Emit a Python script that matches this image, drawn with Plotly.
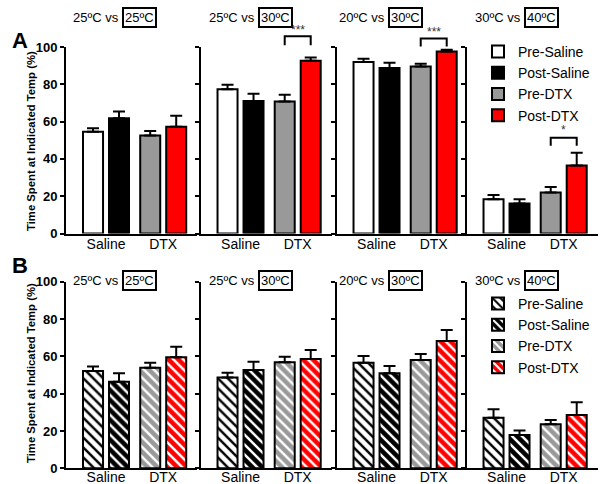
import plotly.graph_objects as go

W, H = 600, 484
FONT = "Arial, Liberation Sans, sans-serif"

series = ["Pre-Saline", "Post-Saline", "Pre-DTX", "Post-DTX"]
group_labels = ["Saline", "DTX"]
panel_titles_left = ["25ºC vs", "25ºC vs", "20ºC vs", "30ºC vs"]
panel_titles_box = ["25ºC", "30ºC", "30ºC", "40ºC"]

# Row A (solid bars): mean and SEM per subplot, order = series
A_mean = [[54.6, 61.8, 52.5, 57.3],
          [77.4, 71.1, 70.8, 92.6],
          [91.9, 88.7, 89.6, 97.6],
          [18.4, 16.1, 22.0, 36.4]]
A_sem = [[1.8, 3.6, 2.5, 5.8],
         [2.3, 3.8, 3.6, 1.8],
         [1.8, 2.9, 1.4, 0.9],
         [2.2, 2.2, 3.0, 6.9]]
# Row B (hatched bars)
B_mean = [[52.1, 46.4, 53.9, 59.5],
          [48.6, 52.7, 56.8, 58.6],
          [56.6, 50.9, 58.0, 68.2],
          [27.1, 17.8, 23.6, 28.6]]
B_sem = [[2.4, 4.5, 2.7, 5.7],
         [2.6, 4.4, 3.0, 4.8],
         [3.6, 3.9, 3.2, 5.9],
         [4.5, 2.4, 2.3, 6.8]]

# significance brackets (row A): (subplot index, from series, to series, label)
sig = [(1, 2, 3, "***"), (2, 2, 3, "***"), (3, 2, 3, "*")]

fills = ["white", "black", "#999999", "#ff0000"]
stripe = ["black", "white", "white", "white"]

# layout geometry (pixels)
xpos = [0, 1, 2.2, 3.2]
XR = [-1.04, 4.0]
YR = [0, 100]
col_left = [66, 200.5, 336.5, 466.5]
col_w = 131
rowA_y = (233.5, 47)   # px of 0 and 100
rowB_y = (468.3, 281.7)

def py2paper(p):
    return 1 - p / H

fig = go.Figure()

layout = dict(width=W, height=H, margin=dict(l=0, r=0, t=0, b=0, autoexpand=False),
              paper_bgcolor="white", plot_bgcolor="white",
              barmode="overlay", font=dict(family=FONT, color="black"),
              showlegend=True)

def axis_names(r, c):
    n = r * 4 + c + 1
    return ("x" if n == 1 else f"x{n}"), ("y" if n == 1 else f"y{n}")

shapes, annotations = [], []

for r, (means, sems, rowy) in enumerate([(A_mean, A_sem, rowA_y), (B_mean, B_sem, rowB_y)]):
    for c in range(4):
        xa, ya = axis_names(r, c)
        xkey = "xaxis" if xa == "x" else "xaxis" + xa[1:]
        ykey = "yaxis" if ya == "y" else "yaxis" + ya[1:]
        layout[xkey] = dict(domain=[col_left[c] / W, (col_left[c] + col_w) / W],
                            range=XR, showline=True, linecolor="black", linewidth=2,
                            showgrid=False, zeroline=False, ticks="",
                            tickvals=[(xpos[0] + xpos[1]) / 2, (xpos[2] + xpos[3]) / 2],
                            ticktext=group_labels, tickfont=dict(size=14, family=FONT),
                            ticklabelstandoff=(-3 if r == 0 else -5),
                            anchor=ya, fixedrange=True, automargin=False)
        layout[ykey] = dict(domain=[py2paper(rowy[0]), py2paper(rowy[1])],
                            range=YR, showline=True, linecolor="black", linewidth=2,
                            showgrid=False, zeroline=False, ticks="outside", ticklen=4,
                            tickwidth=2, tickcolor="black", dtick=20,
                            showticklabels=(c == 0),
                            tickfont=dict(size=13, family=FONT, weight="bold"),
                            anchor=xa, fixedrange=True, automargin=False)
        for i, s in enumerate(series):
            if r == 0:
                marker = dict(color=fills[i], line=dict(color="black", width=2))
            else:
                marker = dict(color=fills[i], line=dict(color="black", width=2),
                              pattern=dict(shape="\\", bgcolor=fills[i], fgcolor=stripe[i],
                                           size=7, solidity=0.35, fillmode="replace"))
            fig.add_trace(go.Bar(
                x=[xpos[i]], y=[means[c][i]], width=0.77,
                marker=marker, name=s,
                error_y=dict(type="data", symmetric=False, array=[sems[c][i]],
                             arrayminus=[0], color="black", thickness=2, width=6),
                xaxis=xa, yaxis=ya,
                legend="legend" if r == 0 else "legend2",
                legendgroup=f"{r}-{s}", showlegend=(c == 0),
            ))
        # titles
        ty = 17 if r == 0 else 280.5
        box_left = [122, 258, 388, 524][c]
        annotations.append(dict(text=panel_titles_left[c], x=(box_left - 1) / W, y=py2paper(ty),
                                xref="paper", yref="paper", xanchor="right", yanchor="middle",
                                showarrow=False, font=dict(size=13, family=FONT)))
        annotations.append(dict(text=panel_titles_box[c], x=box_left / W, y=py2paper(ty),
                                xref="paper", yref="paper", xanchor="left", yanchor="middle",
                                showarrow=False, font=dict(size=13, family=FONT),
                                bordercolor="black", borderwidth=2, borderpad=1))

# significance brackets
def to_paper(c, x, yv, rowy):
    px = col_left[c] + (x - XR[0]) / (XR[1] - XR[0]) * col_w
    pyy = rowy[0] + (yv - YR[0]) / (YR[1] - YR[0]) * (rowy[1] - rowy[0])
    return px / W, py2paper(pyy)

bracket_levels = {1: (101, 105.8, 109), 2: (100.3, 104.5, 108.2), 3: (47, 51.4, 55.5)}
for c, i0, i1, lab in sig:
    lo, hi, st = bracket_levels[c]
    x0, y0 = to_paper(c, xpos[i0], lo, rowA_y)
    x1, y1 = to_paper(c, xpos[i1], hi, rowA_y)
    shapes.append(dict(type="path", xref="paper", yref="paper",
                       path=f"M {x0} {y0} L {x0} {y1} L {x1} {y1} L {x1} {y0}",
                       line=dict(color="black", width=2)))
    xm, ys = to_paper(c, (xpos[i0] + xpos[i1]) / 2, st, rowA_y)
    annotations.append(dict(text=lab, x=xm, y=ys, xref="paper", yref="paper",
                            xanchor="center", yanchor="middle", showarrow=False,
                            font=dict(size=12, family=FONT, color="#333333")))

# panel letters and y titles
annotations.append(dict(text="<b>A</b>", x=10 / W, y=py2paper(26), xref="paper", yref="paper",
                        showarrow=False, font=dict(size=22, family=FONT)))
annotations.append(dict(text="<b>B</b>", x=10 / W, y=py2paper(265), xref="paper", yref="paper",
                        showarrow=False, font=dict(size=22, family=FONT)))
for cy in (141, 373):
    annotations.append(dict(text="<b>Time Spent at Indicated Temp (%)</b>", x=31 / W, y=py2paper(cy),
                            xref="paper", yref="paper", textangle=-90, showarrow=False,
                            xanchor="center", yanchor="middle",
                            font=dict(size=11.3, family=FONT)))

layout["shapes"] = shapes
layout["annotations"] = annotations
layout["legend"] = dict(x=478 / W, y=py2paper(36), xanchor="left", yanchor="top",
                        font=dict(size=14, family=FONT), tracegroupgap=0,
                        bgcolor="rgba(0,0,0,0)", itemclick=False, itemdoubleclick=False)
layout["legend2"] = dict(x=478 / W, y=py2paper(288), xanchor="left", yanchor="top",
                         font=dict(size=14, family=FONT), tracegroupgap=0,
                         bgcolor="rgba(0,0,0,0)", itemclick=False, itemdoubleclick=False)

fig.update_layout(**layout)
fig.write_html("out.html", config={"displayModeBar": False},
               post_script="document.body.style.margin='0';document.body.style.overflow='hidden';")
